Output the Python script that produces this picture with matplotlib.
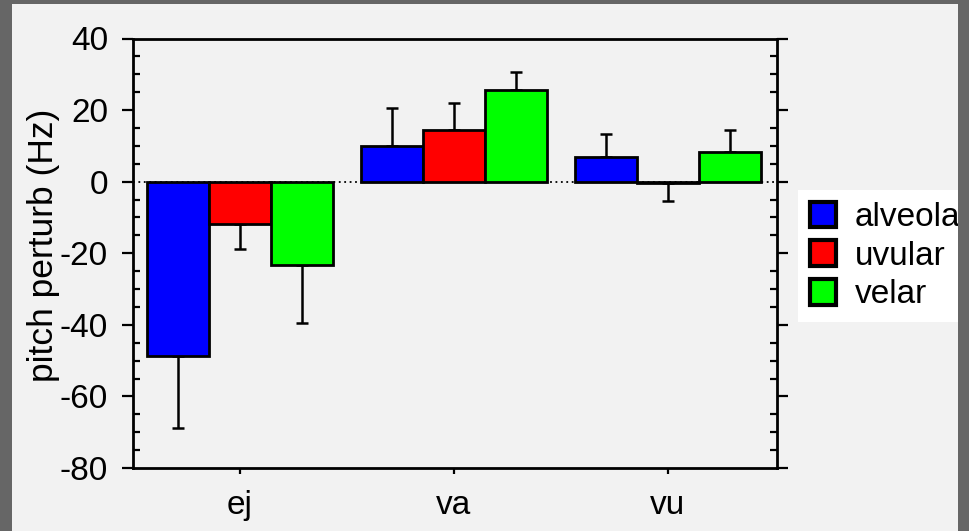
import numpy as np
import matplotlib
matplotlib.use('Agg')
import matplotlib.pyplot as plt
from matplotlib.patches import Rectangle, Patch
from matplotlib.ticker import MultipleLocator

plt.rcParams['font.family'] = ['Liberation Sans', 'DejaVu Sans']
plt.rcParams['axes.unicode_minus'] = False

groups = ['ej', 'va', 'vu']
series = ['alveolar', 'uvular', 'velar']
colors = ['#0000ff', '#ff0000', '#00ff00']
means = {
    'alveolar': [-48.6, 10.0, 6.9],
    'uvular': [-11.7, 14.5, -0.5],
    'velar': [-23.2, 25.7, 8.3],
}
errs = {
    'alveolar': [20.1, 10.7, 6.3],
    'uvular': [7.0, 7.6, 5.0],
    'velar': [16.2, 5.0, 6.1],
}

fig = plt.figure(figsize=(9.7, 5.31), dpi=100, facecolor='#666666')
fig.add_artist(Rectangle((12 / 970, 0), (958 - 12) / 970, 527 / 531,
                         transform=fig.transFigure, facecolor='#f2f2f2',
                         edgecolor='none', zorder=-5))
ax = fig.add_axes([133 / 970, 63 / 531, 644 / 970, 429.5 / 531])
ax.set_facecolor('#f2f2f2')

x = np.arange(len(groups))
w = 0.29
ax.axhline(0, color='k', ls=(0, (1, 2)), lw=1.3, zorder=1)
for i, s in enumerate(series):
    pos = x + (i - 1) * w
    vals = np.array(means[s])
    e = np.array(errs[s])
    lower = np.where(vals < 0, e, 0)
    upper = np.where(vals >= 0, e, 0)
    ax.bar(pos, vals, w, color=colors[i], edgecolor='k', lw=2, zorder=3)
    ax.errorbar(pos, vals, yerr=[lower, upper], fmt='none', ecolor='k',
                elinewidth=1.8, capsize=4, capthick=1.8, zorder=2)

ax.set_xlim(-0.5, 2.51)
ax.set_ylim(-80, 40)
ax.set_xticks(x)
ax.set_xticklabels(groups)
ax.yaxis.set_major_locator(MultipleLocator(20))
ax.yaxis.set_minor_locator(MultipleLocator(5))
ax.tick_params(axis='y', which='major', direction='out', length=8, width=1.6,
               left=True, right=True, labelsize=24, pad=10)
ax.tick_params(axis='y', which='minor', direction='in', length=5, width=1.6,
               left=True, right=True)
ax.tick_params(axis='x', which='major', direction='out', length=4, width=1.6,
               labelsize=24, pad=12)
for sp in ax.spines.values():
    sp.set_linewidth(2)
ax.set_ylabel('pitch perturb (Hz)', fontsize=25.5)
ax.yaxis.set_label_coords(-0.113, 0.519)

handles = [Patch(facecolor=c, edgecolor='k', lw=3) for c in colors]
leg = ax.legend(handles, series, loc='upper left',
                bbox_to_anchor=(798 / 970, 341 / 531),
                bbox_transform=fig.transFigure, fontsize=24, frameon=True,
                fancybox=False, borderpad=0.35, handlelength=0.8,
                handleheight=0.8, handletextpad=0.55, labelspacing=0.22,
                borderaxespad=0)
leg.get_frame().set_facecolor('white')
leg.get_frame().set_edgecolor('none')
leg.get_frame().set_alpha(1)

# dark frame drawn over everything on the right edge
fig.add_artist(Rectangle((958 / 970, 0), 12 / 970, 1, transform=fig.transFigure,
                         facecolor='#666666', edgecolor='none', zorder=10))

fig.savefig('out.png', dpi=100, facecolor=fig.get_facecolor())
